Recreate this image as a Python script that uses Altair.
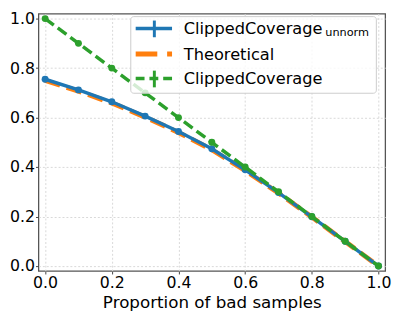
import altair as alt
import pandas as pd

props = [0.0, 0.1, 0.2, 0.3, 0.4, 0.5, 0.6, 0.7, 0.8, 0.9, 1.0]
unnorm = [0.755, 0.712, 0.664, 0.606, 0.544, 0.474, 0.389, 0.297, 0.199, 0.100, 0.0]
theoretical = [0.750, 0.707, 0.659, 0.602, 0.540, 0.470, 0.386, 0.295, 0.198, 0.099, 0.0]
clipped = [1.0, 0.9, 0.8, 0.7, 0.6, 0.5, 0.4, 0.3, 0.2, 0.1, 0.0]

BLUE = "#1f77b4"
ORANGE = "#ff7f0e"
GREEN = "#2ca02c"
FONT = "DejaVu Sans"

df = pd.DataFrame({"p": props, "unnorm": unnorm, "theo": theoretical, "clip": clipped})

xs = alt.Scale(domain=[-0.02, 1.02], nice=False, zero=False)
ys = alt.Scale(domain=[-0.02, 1.02], nice=False, zero=False)
tick_vals = [0.0, 0.2, 0.4, 0.6, 0.8, 1.0]

xax = alt.Axis(values=tick_vals, format=".1f", title="Proportion of bad samples",
               grid=True, gridDash=[2, 2], gridColor="#d8d8d8", domain=False,
               tickColor="#444", tickSize=3, labelPadding=1, labelFontSize=16,
               labelFont=FONT, labelColor="black", titleFont=FONT, titleFontSize=17,
               titleFontWeight="normal", titleColor="black", titlePadding=4,
               labelFlush=False)
yax = alt.Axis(values=tick_vals, format=".1f", title=None,
               grid=True, gridDash=[2, 2], gridColor="#d8d8d8", domain=False,
               tickColor="#444", tickSize=3, labelPadding=1, labelFontSize=16,
               labelFont=FONT, labelColor="black", labelFlush=False)

base = alt.Chart(df)

theo_line = base.mark_line(color=ORANGE, strokeWidth=5, strokeDash=[16, 7]).encode(
    x=alt.X("p:Q", scale=xs, axis=xax), y=alt.Y("theo:Q", scale=ys, axis=yax))
blue_line = base.mark_line(color=BLUE, strokeWidth=3.5).encode(
    x=alt.X("p:Q", scale=xs), y=alt.Y("unnorm:Q", scale=ys))
blue_pts = base.mark_circle(color=BLUE, size=50, opacity=1).encode(
    x=alt.X("p:Q", scale=xs), y=alt.Y("unnorm:Q", scale=ys))
green_line = base.mark_line(color=GREEN, strokeWidth=3.5, strokeDash=[11, 5]).encode(
    x=alt.X("p:Q", scale=xs), y=alt.Y("clip:Q", scale=ys))
green_pts = base.mark_circle(color=GREEN, size=50, opacity=1).encode(
    x=alt.X("p:Q", scale=xs), y=alt.Y("clip:Q", scale=ys))

# manual legend (pixel offsets inside the plot area)
one = pd.DataFrame({"k": [0]})
lb = alt.Chart(one)
leg_box = lb.mark_rect(fill="white", fillOpacity=0.8, stroke="#cccccc", strokeWidth=1,
                       cornerRadius=3).encode(
    x=alt.value(94), x2=alt.value(344), y=alt.value(3), y2=alt.value(81))
r1 = lb.mark_rule(color=BLUE, strokeWidth=3.5).encode(
    x=alt.value(99), x2=alt.value(136), y=alt.value(15))
r1v = lb.mark_rule(color=BLUE, strokeWidth=3).encode(
    x=alt.value(118), y=alt.value(7), y2=alt.value(24))
r2 = lb.mark_rule(color=ORANGE, strokeWidth=5, strokeDash=[22, 10]).encode(
    x=alt.value(99), x2=alt.value(136), y=alt.value(41))
r3 = lb.mark_rule(color=GREEN, strokeWidth=3.5, strokeDash=[9, 5]).encode(
    x=alt.value(99), x2=alt.value(136), y=alt.value(66))
r3v = lb.mark_rule(color=GREEN, strokeWidth=3).encode(
    x=alt.value(118), y=alt.value(58), y2=alt.value(75))
txt_kw = dict(align="left", baseline="middle", font=FONT, fontSize=16.5, color="black")
t1 = lb.mark_text(text="ClippedCoverage", **txt_kw).encode(x=alt.value(148), y=alt.value(16))
t1s = lb.mark_text(text="unnorm", align="left", baseline="middle", font=FONT,
                   fontSize=11.5, color="black").encode(x=alt.value(292), y=alt.value(20))
t2 = lb.mark_text(text="Theoretical", **txt_kw).encode(x=alt.value(148), y=alt.value(42))
t3 = lb.mark_text(text="ClippedCoverage", **txt_kw).encode(x=alt.value(148), y=alt.value(67))

chart = alt.layer(theo_line, blue_line, blue_pts, green_line, green_pts,
                  leg_box, r1, r1v, r2, r3, r3v, t1, t1s, t2, t3).properties(
    width=353, height=262,
    autosize=alt.AutoSizeParams(type="none"),
    padding={"left": 31, "top": 3, "right": 10, "bottom": 42},
).configure_view(stroke="#555555", strokeWidth=1.3)

chart.save("out.html", embed_options={"renderer": "svg", "actions": False})
